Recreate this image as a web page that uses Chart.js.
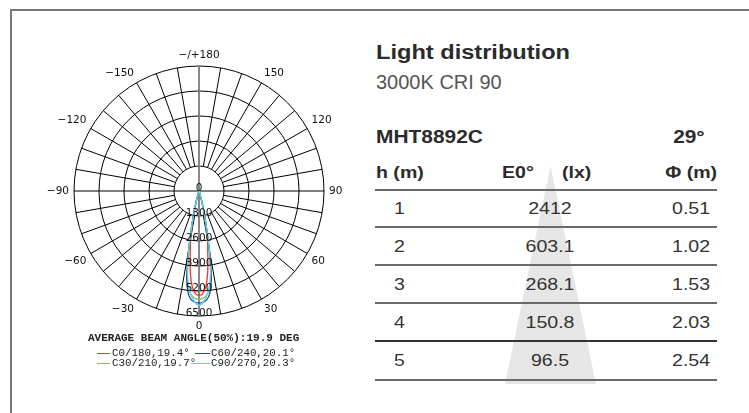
<!DOCTYPE html>
<html>
<head>
<meta charset="utf-8">
<script src="https://cdn.jsdelivr.net/npm/chart.js@4.4.1/dist/chart.umd.min.js"></script>
<style>
  html, body { margin: 0; padding: 0; background: #fff; }
  body { width: 749px; height: 413px; position: relative; overflow: hidden; font-family: "Liberation Sans", Arial, sans-serif; }
  #frame { position: absolute; left: 10px; top: 9px; width: 760px; height: 420px; border-left: 2px solid #777; border-top: 2px solid #777; }
  #polarBox { position: absolute; left: 0; top: 0; width: 370px; height: 413px; }
  .t { position: absolute; white-space: nowrap; line-height: 1; }
  .w { transform-origin: 0 0; }
  .wr { transform-origin: 100% 0; }
  .mono { font-family: "Liberation Mono", "DejaVu Sans Mono", monospace; color: #222; }
  .key { position: absolute; height: 1px; }
  .rule { position: absolute; left: 375px; width: 342px; height: 2px; background: #6a6a6a; }
  #beam { position: absolute; left: 505px; top: 166px; width: 91px; height: 218px; background: #e6e6e6; clip-path: polygon(50% 0, 100% 100%, 0 100%); }
</style>
</head>
<body>
<div id="frame"></div>
<div id="polarBox"><canvas id="polar"></canvas></div>

<div class="t mono" style="left:88px; top:333px; font-size:11px; font-weight:bold;">AVERAGE BEAM ANGLE(50%):19.9 DEG</div>
<div class="key" style="left:97px; top:353px; width:13px; background:#ff2a2a;"></div>
<div class="t mono" style="left:112px; top:347.5px; font-size:10.8px;">C0/180,19.4°</div>
<div class="key" style="left:195px; top:353px; width:15px; background:#1f4c9e;"></div>
<div class="t mono" style="left:211px; top:347.5px; font-size:10.8px;">C60/240,20.1°</div>
<div class="key" style="left:97px; top:363px; width:13px; background:#7fc463;"></div>
<div class="t mono" style="left:112px; top:357.5px; font-size:10.8px;">C30/210,19.7°</div>
<div class="key" style="left:191px; top:363px; width:19px; background:#5fd3e6;"></div>
<div class="t mono" style="left:211px; top:357.5px; font-size:10.8px;">C90/270,20.3°</div>

<div id="beam"></div>
<div class="t w" style="left:376px; top:42px; font-size:20px; font-weight:bold; color:#2b2b2b; transform:scaleX(1.18);">Light distribution</div>
<div class="t" style="left:376px; top:71.5px; font-size:20px; color:#555;">3000K CRI 90</div>
<div class="t w" style="left:376px; top:126.5px; font-size:19px; font-weight:bold; color:#2b2b2b; transform:scaleX(1.1);">MHT8892C</div>
<div class="t wr" style="right:44px; top:126.5px; font-size:19px; font-weight:bold; color:#2b2b2b; transform:scaleX(1.1);">29°</div>

<div class="t w" style="left:376px; top:164px; font-size:17px; font-weight:bold; color:#2b2b2b; transform:scaleX(1.15);">h (m)</div>
<div class="t w" style="left:502px; top:164px; font-size:17px; font-weight:bold; color:#2b2b2b; transform:scaleX(1.15);">E0°</div>
<div class="t w" style="left:562px; top:164px; font-size:17px; font-weight:bold; color:#2b2b2b; transform:scaleX(1.15);">(lx)</div>
<div class="t wr" style="right:32px; top:164px; font-size:17px; font-weight:bold; color:#2b2b2b; transform:scaleX(1.15);">Φ (m)</div>

<div class="rule" style="top:188.5px;"></div>
<div class="rule" style="top:226px;"></div>
<div class="rule" style="top:264px;"></div>
<div class="rule" style="top:302px;"></div>
<div class="rule" style="top:340px; background:#333;"></div>
<div class="rule" style="top:379px;"></div>
<div id="rows"></div>

<script>
// photometric curves, candela per C-plane pair, gamma in degrees
const beamAngles = [-24, -22, -20, -18, -16, -14, -12, -10, -8, -6, -4, -2, 0, 2, 4, 6, 8, 10, 12, 14, 16, 18, 20, 22, 24];
const c0Values  = [0, 15, 60, 150, 380, 850, 1600, 2500, 3300, 4300, 5000, 5340, 5430, 5340, 5000, 4300, 3300, 2500, 1600, 850, 380, 150, 60, 15, 0];
const c30Values = [0, 15, 55, 140, 330, 760, 1600, 2950, 4350, 5100, 5450, 5590, 5640, 5590, 5450, 5100, 4350, 2950, 1600, 760, 330, 140, 55, 15, 0];
const c60Values = [0, 20, 60, 150, 350, 800, 1700, 3100, 4600, 5350, 5680, 5790, 5820, 5790, 5680, 5350, 4600, 3100, 1700, 800, 350, 150, 60, 20, 0];
const c90Values = [0, 20, 70, 160, 380, 850, 1750, 3050, 4300, 5050, 5500, 5800, 5950, 5800, 5500, 5050, 4300, 3050, 1750, 850, 380, 160, 70, 20, 0];

const angleTicks = [180, 150, 120, 90, 60, 30, 0, -30, -60, -90, -120, -150];
const radialTicks = [0, 1300, 2600, 3900, 5200, 6500];

// table on the right
const heights = ["1", "2", "3", "4", "5"];
const illuminance = ["2412", "603.1", "268.1", "150.8", "96.5"];
const diameters = ["0.51", "1.02", "1.53", "2.03", "2.54"];

const gammaStep = 2;
const labels = [];
for (let i = 0; i < 360 / gammaStep; i++) labels.push(180 - i * gammaStep);

function fullCurve(values) {
  return labels.map((g) => {
    const k = beamAngles.indexOf(g);
    return k === -1 ? 0 : values[k];
  });
}

function fmtAngle(g) {
  if (g === 180) return "\u2212/+180";
  return g < 0 ? "\u2212" + Math.abs(g) : String(g);
}

const polarDecor = {
  id: "polarDecor",
  beforeDatasetsDraw(chart) {
    const r = chart.scales.r;
    const ctx = chart.ctx;
    const top = radialTicks[radialTicks.length - 1];
    ctx.save();
    for (let g = 180; g > -180; g -= 10) {
      const i = (180 - g) / gammaStep;
      const main = g % 90 === 0;
      const a = r.getPointPositionForValue(i, main ? 0 : radialTicks[1]);
      const b = r.getPointPositionForValue(i, top);
      ctx.strokeStyle = g % 180 === 0 ? "#7a7a7a" : "#000";
      ctx.lineWidth = g % 180 === 0 ? 1.8 : 1;
      ctx.beginPath();
      ctx.moveTo(a.x, a.y);
      ctx.lineTo(b.x, b.y);
      ctx.stroke();
    }
    ctx.restore();
  },
  afterDatasetsDraw(chart) {
    const r = chart.scales.r;
    const ctx = chart.ctx;
    ctx.save();
    ctx.fillStyle = "#111";
    ctx.font = "10.5px 'DejaVu Sans'";
    // intensity ticks along gamma 0
    ctx.textAlign = "center";
    ctx.textBaseline = "middle";
    const down = (180 - 0) / gammaStep;
    radialTicks.forEach((v) => {
      const p = r.getPointPositionForValue(down, v);
      ctx.fillText(String(v), p.x, p.y - 3);
    });
    // gamma labels round the outside
    angleTicks.forEach((g) => {
      const i = (180 - g) / gammaStep;
      const deg = ((180 - g) % 360 + 360) % 360;
      const p = r.getPointPosition(i, r.drawingArea + 5);
      ctx.textAlign = deg === 0 || deg === 180 ? "center" : deg < 180 ? "left" : "right";
      ctx.textBaseline = deg === 90 || deg === 270 ? "middle" : deg < 90 || deg > 270 ? "bottom" : "top";
      ctx.fillText(fmtAngle(g), p.x, p.y);
    });
    ctx.restore();
  },
};

new Chart(document.getElementById("polar"), {
  type: "radar",
  data: {
    labels: labels,
    datasets: [
      { label: "C0/180,19.4°", data: fullCurve(c0Values), borderColor: "#ff2a2a", order: 4 },
      { label: "C30/210,19.7°", data: fullCurve(c30Values), borderColor: "#7fc463", order: 3 },
      { label: "C60/240,20.1°", data: fullCurve(c60Values), borderColor: "#1f4c9e", order: 2 },
      { label: "C90/270,20.3°", data: fullCurve(c90Values), borderColor: "#5fd3e6", order: 1 },
    ],
  },
  options: {
    responsive: true,
    maintainAspectRatio: false,
    animation: false,
    layout: { padding: { left: 74, top: 66, right: 46, bottom: 97 } },
    elements: {
      line: { borderWidth: 1.3, tension: 0.3, fill: false },
      point: { radius: 0 },
    },
    plugins: { legend: { display: false }, tooltip: { enabled: false } },
    scales: {
      r: {
        min: 0,
        max: 6500,
        ticks: { display: false, stepSize: 1300 },
        grid: { circular: true, color: "#000", lineWidth: 1 },
        angleLines: { display: false },
        pointLabels: { display: false },
      },
    },
  },
  plugins: [polarDecor],
});

// fill the table rows
const rowsEl = document.getElementById("rows");
const rowCenters = [208.5, 246.5, 284.5, 322.5, 360.5];
heights.forEach((h, k) => {
  const top = rowCenters[k] - 8.5;
  rowsEl.insertAdjacentHTML("beforeend",
    `<div class="t w" style="left:394px; top:${top}px; font-size:17px; color:#333; transform:scaleX(1.15);">${h}</div>` +
    `<div class="t" style="left:450px; width:200px; text-align:center; top:${top}px; font-size:17px; color:#333; transform:scaleX(1.15);">${illuminance[k]}</div>` +
    `<div class="t wr" style="right:39px; top:${top}px; font-size:17px; color:#333; transform:scaleX(1.15);">${diameters[k]}</div>`);
});
</script>
</body>
</html>
